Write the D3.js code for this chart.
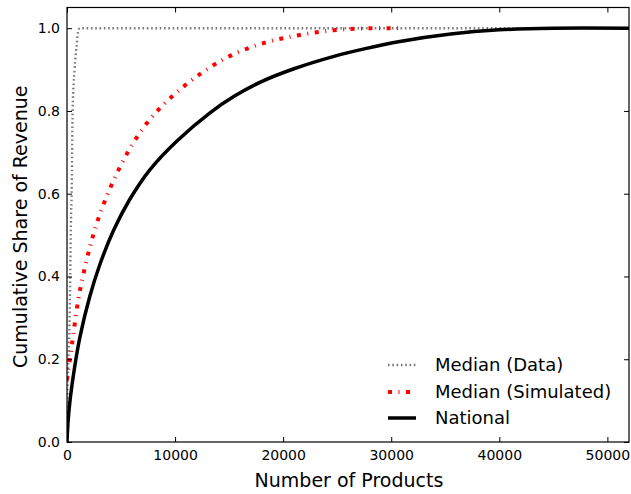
<!DOCTYPE html>
<html><head><meta charset="utf-8">
<script src="https://cdn.jsdelivr.net/npm/d3@7"></script>
<style>
html,body{margin:0;padding:0;background:#fff;}
svg text{font-family:"DejaVu Sans",sans-serif;fill:#000;}
</style></head>
<body><svg id="chart" width="631" height="494"></svg>
<script>
// ---- data ----
const xTicks = [0, 10000, 20000, 30000, 40000, 50000];
const yTicks = [0.0, 0.2, 0.4, 0.6, 0.8, 1.0];
const seriesNames = ["Median (Data)", "Median (Simulated)", "National"];

const medianDataX = [0, 30, 100, 215, 300, 370, 430, 520, 700, 900, 1050, 1200, 52000];
const medianDataY = [0, 0.10, 0.18, 0.26, 0.40, 0.54, 0.60, 0.80, 0.90, 0.96, 0.995, 1.0, 1.0];

const medianSimX = [0, 120, 370, 590, 1050, 1360, 2130, 3060, 4290, 5770, 7620, 9840, 12470, 15250, 18330, 21420, 24660, 27500, 31100];
const medianSimY = [0.15, 0.174, 0.218, 0.262, 0.345, 0.387, 0.472, 0.552, 0.631, 0.707, 0.778, 0.838, 0.892, 0.935, 0.965, 0.983, 0.995, 0.9995, 1.0];

const nationalX = [0, 100, 300, 700, 1200, 2100, 3000, 4300, 5800, 7700, 10150, 13200, 15500, 18000, 21000, 24700, 27500, 30800, 35500, 40000, 45000, 52000];
const nationalY = [0, 0.05, 0.105, 0.18, 0.254, 0.351, 0.426, 0.511, 0.586, 0.659, 0.727, 0.795, 0.836, 0.871, 0.902, 0.932, 0.95, 0.968, 0.986, 0.996, 1.0, 1.0];

// ---- layout ----
const L = 67, R = 629, T = 7.5, B = 442;
const svg = d3.select("#chart");
const x = d3.scaleLinear().domain([0, 52000]).range([L, R]);
const y = d3.scaleLinear().domain([0, 1.05]).range([B, T]);

svg.append("defs").append("clipPath").attr("id", "clip")
  .append("rect").attr("x", L).attr("y", T).attr("width", R - L).attr("height", B - T);

const zip = (a, b) => a.map((v, i) => [v, b[i]]);
const lineSteep = d3.line().x(d => x(d[0])).y(d => y(d[1])).curve(d3.curveMonotoneX);
const lineSmooth = d3.line().x(d => x(d[0])).y(d => y(d[1])).curve(d3.curveCatmullRom.alpha(0.5));

const styles = [
  {stroke: "#7a7a7a", width: 2.4, dash: "1.6,2.7", gen: lineSteep},
  {stroke: "#ff0000", width: 4, dash: "4,6.5,1,6.5", gen: lineSmooth},
  {stroke: "#000000", width: 3.5, dash: null, gen: lineSmooth}
];
const data = [zip(medianDataX, medianDataY), zip(medianSimX, medianSimY), zip(nationalX, nationalY)];

const g = svg.append("g").attr("clip-path", "url(#clip)");
data.forEach((d, i) => {
  g.append("path").datum(d).attr("d", styles[i].gen)
    .attr("fill", "none").attr("stroke", styles[i].stroke)
    .attr("stroke-width", styles[i].width)
    .attr("stroke-dasharray", styles[i].dash)
    .attr("stroke-linecap", "butt");
});

// ---- axes (ticks inward on all sides) ----
const tickLen = 5;
const fmtY = d3.format(".1f");
const axB = svg.append("g").attr("transform", `translate(0,${B})`)
  .call(d3.axisBottom(x).tickValues(xTicks).tickSize(-tickLen).tickPadding(8).tickFormat(d3.format("d")));
const axT = svg.append("g").attr("transform", `translate(0,${T})`)
  .call(d3.axisTop(x).tickValues(xTicks).tickSize(-tickLen).tickFormat(""));
const axL = svg.append("g").attr("transform", `translate(${L},0)`)
  .call(d3.axisLeft(y).tickValues(yTicks).tickSize(-tickLen).tickPadding(7).tickFormat(fmtY));
const axR = svg.append("g").attr("transform", `translate(${R},0)`)
  .call(d3.axisRight(y).tickValues(yTicks).tickSize(-tickLen).tickFormat(""));
[axB, axT, axL, axR].forEach(a => {
  a.select(".domain").remove();
  a.selectAll(".tick line").attr("stroke", "#000").attr("stroke-width", 1);
  a.selectAll("text").attr("font-size", 14).attr("font-family", "DejaVu Sans").attr("fill", "#000");
});

svg.append("rect").attr("x", L).attr("y", T).attr("width", R - L).attr("height", B - T)
  .attr("fill", "none").attr("stroke", "#000").attr("stroke-width", 1.2);

// ---- axis labels ----
svg.append("text").attr("x", (L + R) / 2 + 1).attr("y", 487).attr("text-anchor", "middle")
  .attr("font-size", 19).text("Number of Products");
svg.append("text").attr("transform", `translate(27,${(T + B) / 2 + 2}) rotate(-90)`)
  .attr("text-anchor", "middle").attr("font-size", 19).text("Cumulative Share of Revenue");

// ---- legend ----
const legY = [365, 392, 418];
seriesNames.forEach((name, i) => {
  svg.append("line").attr("x1", 388).attr("x2", 416).attr("y1", legY[i]).attr("y2", legY[i])
    .attr("stroke", styles[i].stroke).attr("stroke-width", styles[i].width)
    .attr("stroke-dasharray", styles[i].dash);
  svg.append("text").attr("x", 435).attr("y", legY[i]).attr("dy", "0.35em")
    .attr("font-size", 18).text(name);
});
</script></body></html>
